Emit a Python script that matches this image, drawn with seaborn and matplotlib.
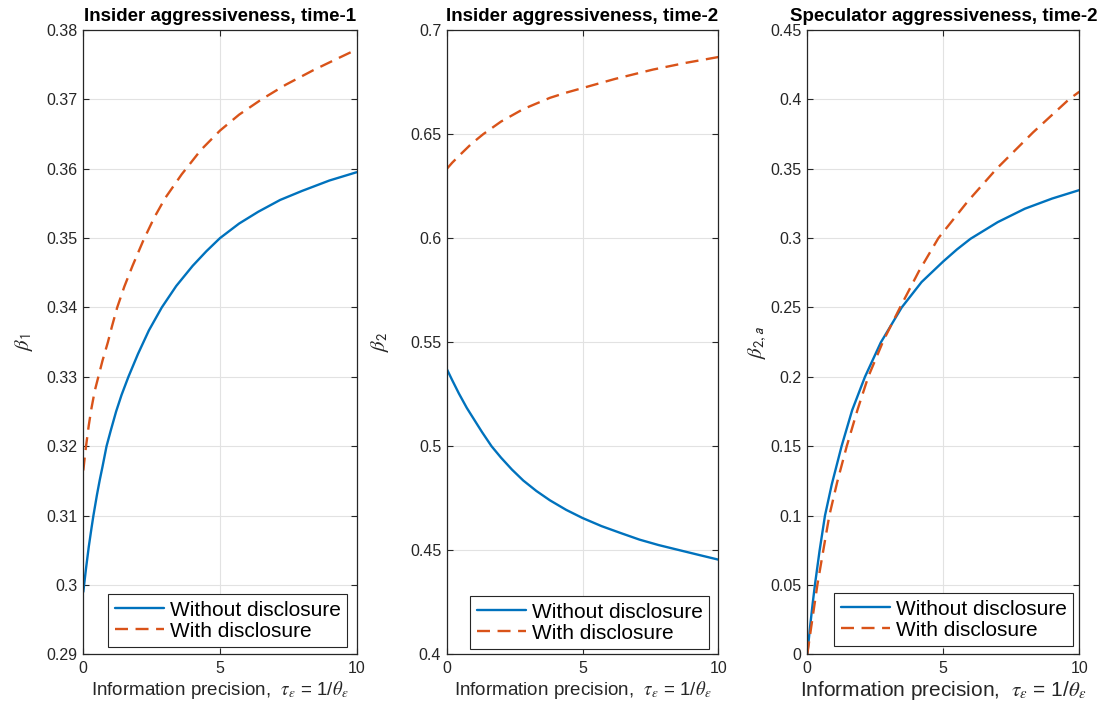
import matplotlib
matplotlib.use("Agg")
import matplotlib.pyplot as plt
import seaborn as sns
import pandas as pd

# ---------------- data ----------------
series_names = ["Without disclosure", "With disclosure"]
titles = ["Insider aggressiveness, time-1",
          "Insider aggressiveness, time-2",
          "Speculator aggressiveness, time-2"]
ylabels = [r"$\beta_{\mathsf{1}}$", r"$\beta_{\mathsf{2}}$", r"$\beta_{\mathsf{2,a}}$"]
xlabel_text = r"Information precision,  $\tau_{\epsilon}$ = 1/$\theta_{\epsilon}$"

# Panel 1: insider aggressiveness, time-1
p1_x_without = [0.0, 0.1, 0.2, 0.3, 0.37, 0.5, 0.6, 0.7, 0.85, 1.0, 1.2, 1.4, 1.65, 2.0, 2.4,
                2.87, 3.4, 4.0, 4.5, 5.0, 5.7, 6.4, 7.2, 8.0, 9.0, 10.0]
p1_y_without = [0.2990, 0.3024, 0.3055, 0.3082, 0.3100, 0.3130, 0.3151, 0.3170, 0.3200, 0.3222,
                0.3250, 0.3274, 0.3300, 0.3333, 0.3367, 0.3400, 0.3431, 0.3460, 0.3481, 0.3500,
                0.3521, 0.3538, 0.3555, 0.3568, 0.3583, 0.3595]
p1_x_with = [0.0, 0.05, 0.1, 0.2, 0.3, 0.42, 0.55, 0.7, 0.9, 1.05, 1.24, 1.5, 1.8, 2.2, 2.6, 3.0,
             3.6, 4.3, 5.0, 5.7, 6.52, 7.4, 8.41, 9.2, 10.0]
p1_y_with = [0.3165, 0.3183, 0.3200, 0.3230, 0.3255, 0.3280, 0.3300, 0.3323, 0.3350, 0.3373,
             0.3400, 0.3430, 0.3460, 0.3497, 0.3530, 0.3558, 0.3592, 0.3627, 0.3655, 0.3678,
             0.3700, 0.3721, 0.3742, 0.3757, 0.3772]

# Panel 2: insider aggressiveness, time-2
p2_x_without = [0.0, 0.2, 0.45, 0.74, 1.0, 1.3, 1.65, 2.0, 2.4, 2.82, 3.3, 3.8, 4.4, 5.0, 5.7,
                6.4, 7.1, 7.8, 8.58, 9.3, 10.0]
p2_y_without = [0.5372, 0.5318, 0.5253, 0.5184, 0.5130, 0.5068, 0.5000, 0.4945, 0.4888, 0.4835,
                0.4785, 0.4740, 0.4694, 0.4655, 0.4616, 0.4583, 0.4551, 0.4525, 0.4500, 0.4477,
                0.4455]
p2_x_with = [0.0, 0.2, 0.49, 0.9, 1.35, 2.0, 2.82, 3.8, 4.4, 5.0, 6.2, 7.6, 8.8, 10.0]
p2_y_with = [0.6332, 0.6362, 0.6400, 0.6452, 0.6500, 0.6560, 0.6620, 0.6674, 0.6699, 0.6721,
             0.6765, 0.6810, 0.6842, 0.6870]

# Panel 3: speculator aggressiveness, time-2
p3_x_without = [0.0, 0.1, 0.2, 0.28, 0.45, 0.65, 0.9, 1.26, 1.65, 2.12, 2.7, 3.47, 4.2, 5.0, 5.5,
                6.0, 7.0, 8.0, 9.0, 10.0]
p3_y_without = [0.000, 0.0195, 0.0370, 0.0500, 0.0745, 0.1000, 0.1225, 0.1500, 0.1760, 0.2000,
                0.2247, 0.2500, 0.2683, 0.2832, 0.2918, 0.2995, 0.3115, 0.3212, 0.3285, 0.3346]
p3_x_with = [0.0, 0.15, 0.37, 0.6, 0.81, 1.1, 1.45, 1.85, 2.24, 2.8, 3.41, 4.1, 4.82, 5.9, 6.96,
             8.3, 9.62, 10.0]
p3_y_with = [0.000, 0.0205, 0.0500, 0.0763, 0.1000, 0.1242, 0.1500, 0.1765, 0.2000, 0.2262,
             0.2500, 0.2760, 0.3000, 0.3265, 0.3500, 0.3762, 0.4000, 0.4055]

x_ticks = [0, 5, 10]
x_tick_labels = ["0", "5", "10"]
p1_yticks = [0.29, 0.30, 0.31, 0.32, 0.33, 0.34, 0.35, 0.36, 0.37, 0.38]
p1_ytick_labels = ["0.29", "0.3", "0.31", "0.32", "0.33", "0.34", "0.35", "0.36", "0.37", "0.38"]
p2_yticks = [0.40, 0.45, 0.50, 0.55, 0.60, 0.65, 0.70]
p2_ytick_labels = ["0.4", "0.45", "0.5", "0.55", "0.6", "0.65", "0.7"]
p3_yticks = [0.0, 0.05, 0.10, 0.15, 0.20, 0.25, 0.30, 0.35, 0.40, 0.45]
p3_ytick_labels = ["0", "0.05", "0.1", "0.15", "0.2", "0.25", "0.3", "0.35", "0.4", "0.45"]

# ---------------- style ----------------
sns.set_theme(style="white")
plt.rcParams["font.family"] = ["Liberation Sans", "DejaVu Sans"]
plt.rcParams["mathtext.fontset"] = "stix"
plt.rcParams["axes.unicode_minus"] = False

BLUE = "#0072BD"
ORANGE = "#D95319"
AX_COL = "#262626"
GRID_COL = "#e2e2e2"

fig = plt.figure(figsize=(11.03, 7.09), dpi=100)
W, H = 1103.0, 709.0
top_px, bot_px = 30.0, 654.3
ax_lr = [(83.3, 356.7), (446.7, 718.3), (807.3, 1079.3)]
axes = []
for l, r in ax_lr:
    axes.append(fig.add_axes([l / W, 1 - bot_px / H, (r - l) / W, (bot_px - top_px) / H]))

panels = [
    (p1_x_without, p1_y_without, p1_x_with, p1_y_with, p1_yticks, p1_ytick_labels),
    (p2_x_without, p2_y_without, p2_x_with, p2_y_with, p2_yticks, p2_ytick_labels),
    (p3_x_without, p3_y_without, p3_x_with, p3_y_with, p3_yticks, p3_ytick_labels),
]
xlabel_sizes = [13.5, 13.5, 15]
ylabel_x = [-0.175, -0.205, -0.14]
legend_anchor = [(0.9645, 0.0117), (0.9658, 0.0085), (0.977, 0.0133)]

for i, (ax, (xw, yw, xd, yd, yt, ytl)) in enumerate(zip(axes, panels)):
    df_w = pd.DataFrame({"x": xw, "y": yw, "series": series_names[0]})
    df_d = pd.DataFrame({"x": xd, "y": yd, "series": series_names[1]})
    sns.lineplot(data=df_w, x="x", y="y", ax=ax, color=BLUE, lw=1.7,
                 label=series_names[0], estimator=None, sort=False)
    sns.lineplot(data=df_d, x="x", y="y", ax=ax, color=ORANGE, lw=1.7,
                 linestyle=(0, (5.5, 3.2)), label=series_names[1], estimator=None, sort=False)

    ax.set_xlim(0, 10)
    ax.set_ylim(yt[0], yt[-1])
    ax.set_xticks(x_ticks)
    ax.set_xticklabels(x_tick_labels)
    ax.set_yticks(yt)
    ax.set_yticklabels(ytl)
    ax.grid(True, color=GRID_COL, lw=0.8)
    ax.set_axisbelow(True)
    for sp in ax.spines.values():
        sp.set_visible(True)
        sp.set_color(AX_COL)
        sp.set_linewidth(0.9)
    ax.tick_params(direction="in", length=4.5, width=0.8, color=AX_COL,
                   labelcolor=AX_COL, labelsize=11.5, top=True, right=True,
                   bottom=True, left=True)
    ax.tick_params(axis="y", pad=4)
    ax.tick_params(axis="x", pad=5)

    ax.set_title(titles[i], fontsize=13.5, fontweight="bold", color="black", pad=6.5)
    ax.set_xlabel(xlabel_text, fontsize=xlabel_sizes[i], color=AX_COL, labelpad=2)
    ax.set_ylabel(ylabels[i], fontsize=15, color=AX_COL)
    ax.yaxis.set_label_coords(ylabel_x[i], 0.5)

    leg = ax.legend(loc="lower right", bbox_to_anchor=legend_anchor[i], borderaxespad=0,
                    fontsize=15, frameon=True, fancybox=False, framealpha=1,
                    edgecolor=AX_COL, handlelength=2.35, handletextpad=0.3,
                    borderpad=0.3, labelspacing=0.1)
    leg.get_frame().set_linewidth(0.8)
    for t in leg.get_texts():
        t.set_color("black")

fig.savefig("out.png", dpi=100)
